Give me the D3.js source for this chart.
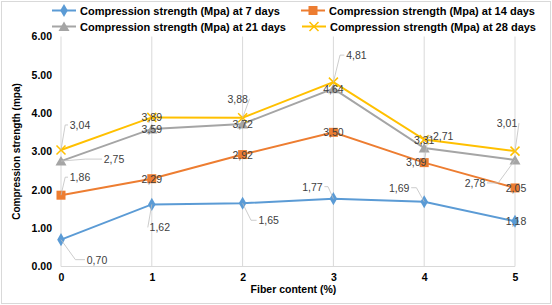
<!DOCTYPE html>
<html>
<head>
<meta charset="utf-8">
<script src="https://cdn.jsdelivr.net/npm/d3@7"></script>
<style>
  body { margin: 0; background: #fff; }
  svg { display: block; font-family: "Liberation Sans", Arial, sans-serif; }
</style>
</head>
<body>
<div id="chart"></div>
<script>
// dados
const fiber = [0, 1, 2, 3, 4, 5];
const days7 = [0.70, 1.62, 1.65, 1.77, 1.69, 1.18];
const days14 = [1.86, 2.29, 2.92, 3.50, 2.71, 2.05];
const days21 = [2.75, 3.59, 3.72, 4.64, 3.09, 2.78];
const days28 = [3.04, 3.89, 3.88, 4.81, 3.31, 3.01];
const yTicks = [0, 1, 2, 3, 4, 5, 6];
const seriesNames = [
  "Compression strength (Mpa) at 7 days",
  "Compression strength (Mpa) at 14 days",
  "Compression strength (Mpa) at 21 days",
  "Compression strength (Mpa) at 28 days"
];

const width = 552, height = 305;
const margin = { top: 36.5, right: 37, bottom: 38.5, left: 61 };

const svg = d3.select("#chart").append("svg")
  .attr("width", width).attr("height", height);

// borda
svg.append("rect").attr("x", 1.5).attr("y", 1.5)
  .attr("width", width - 3).attr("height", height - 3)
  .attr("fill", "none").attr("stroke", "#d9d9d9");

const x = d3.scaleLinear().domain([0, 5]).range([margin.left, width - margin.right]);
const y = d3.scaleLinear().domain([0, 6]).range([height - margin.bottom, margin.top]);

// grade vertical
svg.append("g").selectAll("line").data(fiber).enter().append("line")
  .attr("x1", d => x(d)).attr("x2", d => x(d))
  .attr("y1", y(0)).attr("y2", y(6))
  .attr("stroke", "#d9d9d9").attr("stroke-width", 1);

// eixo x
svg.append("line").attr("x1", x(0)).attr("x2", x(5)).attr("y1", y(0)).attr("y2", y(0))
  .attr("stroke", "#d9d9d9");

const xAxis = svg.append("g").attr("transform", `translate(0,${y(0)})`)
  .call(d3.axisBottom(x).tickValues(fiber).tickFormat(d3.format("d")).tickSize(0).tickPadding(7));
xAxis.select(".domain").remove();
xAxis.selectAll("text").attr("fill", "#000").style("font-size", "10.5px").style("font-weight", "bold");

const yAxis = svg.append("g").attr("transform", `translate(${x(0)},0)`)
  .call(d3.axisLeft(y).tickValues(yTicks).tickFormat(d3.format(".2f")).tickSize(0).tickPadding(9));
yAxis.select(".domain").remove();
yAxis.selectAll("text").attr("fill", "#000").style("font-size", "10.5px").style("font-weight", "bold");

// títulos dos eixos
svg.append("text").attr("x", x(2.56)).attr("y", 293)
  .attr("text-anchor", "middle").style("font-size", "10.5px").style("font-weight", "bold")
  .text("Fiber content (%)");
svg.append("text").attr("transform", `translate(20,${y(3)}) rotate(-90)`)
  .attr("text-anchor", "middle").style("font-size", "10px").style("font-weight", "bold")
  .text("Compression strength (mpa)");

const series = [
  { name: seriesNames[0], values: days7, color: "#5b9bd5", marker: "diamond" },
  { name: seriesNames[1], values: days14, color: "#ed7d31", marker: "square" },
  { name: seriesNames[2], values: days21, color: "#a5a5a5", marker: "triangle" },
  { name: seriesNames[3], values: days28, color: "#ffc000", marker: "x" }
];

const line = d3.line().x((d, i) => x(fiber[i])).y(d => y(d));

function drawMarker(g, type, color) {
  if (type === "diamond") {
    g.append("path").attr("d", d3.symbol(d3.symbolDiamond, 50)()).attr("fill", color);
  } else if (type === "square") {
    g.append("rect").attr("x", -4.5).attr("y", -4.5).attr("width", 9).attr("height", 9).attr("fill", color);
  } else if (type === "triangle") {
    g.append("path").attr("d", "M0,-5L5.5,4.5L-5.5,4.5Z").attr("fill", color);
  } else {
    g.append("path").attr("d", "M-4.5,-4.5L4.5,4.5M-4.5,4.5L4.5,-4.5")
      .attr("stroke", color).attr("stroke-width", 1.5).attr("fill", "none");
  }
}

series.forEach(s => {
  svg.append("path").datum(s.values)
    .attr("d", line).attr("fill", "none")
    .attr("stroke", s.color).attr("stroke-width", 2);
  s.values.forEach((v, i) => {
    const g = svg.append("g").attr("transform", `translate(${x(fiber[i])},${y(v)})`);
    drawMarker(g, s.marker, s.color);
  });
});

// rótulos de dados: deslocamento (dx, dy) do centro do texto em relação ao ponto, e linha guia
const labelLayout = [
  [[36, 20, 1], [8, 23, 1], [26, 17, 1], [-21, -12, 1], [-25, -14, 1], [1, 0, 0]],
  [[19, -18, 1], [0, 0, 0], [0, 0, 0], [0, 0, 0], [19, -27, 1], [1, 0, 0]],
  [[53, -2, 1], [0, 0, 0], [0, 0, 0], [0, 0, 0], [-8, 14, 0], [-40, 23, 1]],
  [[19, -25, 1], [0, 0, 0], [-5, -19, 1], [23, -27, 1], [0, 0, 0], [-8, -28, 1]]
];

const fmt = v => d3.format(".2f")(v).replace(".", ",");

series.forEach((s, si) => {
  s.values.forEach((v, i) => {
    const px = x(fiber[i]), py = y(v);
    const [dx, dy, lead] = labelLayout[si][i];
    const tx = px + dx, ty = py + dy;
    if (lead) {
      // linha guia do ponto até a borda do rótulo
      const ex = dx > 0 ? tx - 12 : tx + 12;
      const ey = ty;
      const mx = px + (ex - px) * 0.6;
      svg.append("polyline")
        .attr("points", `${px},${py} ${Math.abs(dx) > 15 ? mx : ex},${ey} ${ex},${ey}`)
        .attr("fill", "none").attr("stroke", "#bfbfbf").attr("stroke-width", 0.8);
    }
    svg.append("text").attr("x", tx).attr("y", ty)
      .attr("text-anchor", "middle").attr("dominant-baseline", "central")
      .attr("fill", "#404040").style("font-size", "10.5px")
      .text(fmt(v));
  });
});

// legenda
const legendPos = [[52, 10.5], [301, 10.5], [52, 26.5], [302, 26.5]];
series.forEach((s, i) => {
  const [lx, ly] = legendPos[i];
  const g = svg.append("g").attr("transform", `translate(${lx},${ly})`);
  g.append("line").attr("x1", 0).attr("x2", 24).attr("y1", 0).attr("y2", 0)
    .attr("stroke", s.color).attr("stroke-width", 2);
  const m = g.append("g").attr("transform", "translate(12,0)");
  drawMarker(m, s.marker, s.color);
  g.append("text").attr("x", 28).attr("y", 0).attr("dominant-baseline", "central")
    .style("font-size", "11px").style("font-weight", "bold").attr("fill", "#000")
    .text(s.name);
});
</script>
</body>
</html>
